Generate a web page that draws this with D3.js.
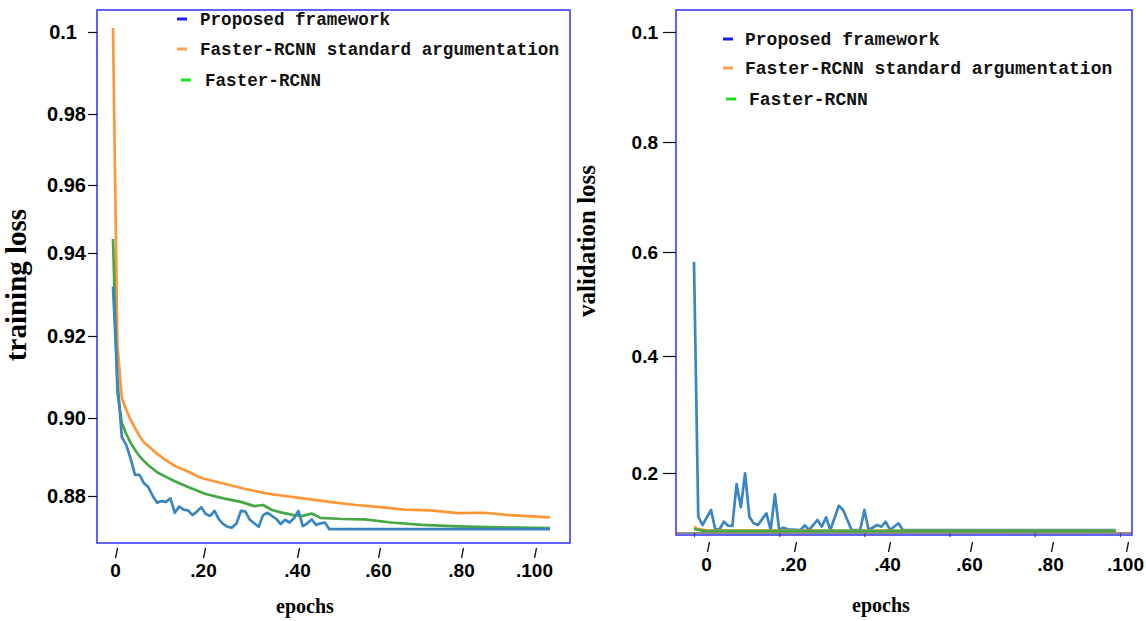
<!DOCTYPE html>
<html>
<head>
<meta charset="utf-8">
<script src="https://cdn.jsdelivr.net/npm/d3@7"></script>
<style>
  html, body { margin: 0; padding: 0; background: #ffffff; }
  svg { display: block; }
</style>
</head>
<body>
<svg id="chart" width="1146" height="621"></svg>
<script>
// ---------------- DATA ----------------
const seriesNames = ["Proposed framework", "Faster-RCNN standard argumentation", "Faster-RCNN"];

// Training loss (left panel)
const trainEpochsBlue = [0,1,2,3,4,5,6,7,8,9,10,11,12,13,14,15,16,17,18,19,20,21,22,23,24,25,26,27,28,29,30,31,32,33,34,35,36,37,38,39,40,41,42,43,44,45,46,47,48,49,60,70,80,90,99];
const trainLossBlue = [0.9319,0.9093,0.8951,0.8931,0.8895,0.8854,0.8854,0.8833,0.8823,0.8800,
  0.8783,0.8787,0.8785,0.8794,0.8757,0.8773,0.8765,0.8763,0.8751,0.8760,
  0.8771,0.8754,0.8749,0.8762,0.8740,0.8728,0.8721,0.8719,0.8730,0.8762,
  0.8760,0.8739,0.8730,0.8721,0.8751,0.8757,0.8749,0.8741,0.8728,0.8739,
  0.8732,0.8743,0.8762,0.8723,0.8730,0.8740,0.8726,0.8730,0.8732,0.8715,
  0.8715,0.8715,0.8715,0.8715,0.8715];

const trainEpochsOrange = [0,1,2,3,4,5,6,7,8,9,10,12,14,17,20,25,30,35,39,43,49,55,60,66,72,78,84,90,99];
const trainLossOrange = [1.001,0.9178,0.9049,0.9020,0.8995,0.8974,0.8954,0.8938,0.8928,0.8918,
  0.8908,0.8892,0.8877,0.8863,0.8846,0.8832,0.8818,0.8806,0.8800,0.8794,
  0.8785,0.8777,0.8772,0.8765,0.8763,0.8756,0.8757,0.8751,0.8745];

const trainEpochsGreen = [0,1,2,3,4,5,6,7,8,10,12,14,17,21,25,29,32,34,36,38,41,43,45,47,52,57,63,70,78,85,99];
const trainLossGreen = [0.9441,0.9063,0.8987,0.8959,0.8936,0.8918,0.8902,0.8890,0.8879,0.8861,
  0.8849,0.8838,0.8823,0.8805,0.8794,0.8785,0.8774,0.8777,0.8764,0.8758,
  0.8751,0.8749,0.8755,0.8744,0.8741,0.8740,0.8732,0.8726,0.8722,0.8720,0.8718];

// Validation loss (right panel)
const valEpochsBlue = [0,1,2,4,5,6,7,8,9,10,11,12,13,14,15,17,18,19,20,21,22,25,26,27,29,30,31,32,34,35,37,39,40,41,43,44,45,46,48,49,99];
const valLossBlue = [0.581,0.1253,0.1111,0.1368,0.1038,0.1038,0.1168,0.1099,0.1094,0.1812,
  0.1414,0.1995,0.1253,0.1140,0.1111,0.1311,0.1026,0.1636,0.1026,0.1065,
  0.1038,0.1026,0.1106,0.1026,0.1197,0.1082,0.1243,0.1026,0.1441,0.1368,
  0.1026,0.1026,0.1368,0.1026,0.1111,0.1082,0.1168,0.1026,0.1140,0.1026,0.1026];

const valEpochsOrange = [0,1,3,10,40,99];
const valLossOrange = [0.1077,0.1040,0.1020,0.1015,0.1013,0.1012];

const valEpochsGreen = [0,2,10,99];
const valLossGreen = [0.1043,0.1014,0.1010,0.1009];

// Tick labels
const xTickValues = [0,20,40,60,80,100];
const xTickLabels = ["0",".20",".40",".60",".80",".100"];
const yTickValuesL = [0.88,0.90,0.92,0.94,0.96,0.98,1.00];
const yTickLabelsL = ["0.88","0.90","0.92","0.94","0.96","0.98","0.1"];
const yTickValuesR = [0.2,0.4,0.6,0.8,1.0];
const yTickLabelsR = ["0.2","0.4","0.6","0.8","0.1"];

// ---------------- STYLE ----------------
const colBlue = "#3a86c2", colOrange = "#ff9638", colGreen = "#46a845";
const legendDash = ["#1a1aff", "#ffa050", "#22dd22"];
const frameCol = "#2e2eff";

const svg = d3.select("#chart");

function drawPanel(cfg) {
  const g = svg.append("g");
  // frame
  g.append("rect").attr("x", cfg.frame[0]).attr("y", cfg.frame[1])
    .attr("width", cfg.frame[2]).attr("height", cfg.frame[3])
    .attr("fill", "none").attr("stroke", frameCol).attr("stroke-width", 1.5);

  // y axis
  const ya = g.append("g").attr("transform", `translate(${cfg.frame[0]},0)`)
    .call(d3.axisLeft(cfg.y).tickValues(cfg.yTicks)
      .tickFormat((d, i) => cfg.yLabels[i]).tickSize(cfg.yTickSize).tickPadding(cfg.yPad));
  ya.select(".domain").remove();
  ya.selectAll("line").attr("stroke", "#111").attr("stroke-width", 1.2);
  ya.selectAll("text").attr("font-family", "Liberation Sans, Arial, sans-serif")
    .attr("font-weight", "bold").attr("font-size", cfg.yFont).attr("fill", "#000")
    .attr("dx", (d, i) => (cfg.yLabels[i] === "0.1" ? cfg.topGap : 0));

  // x axis (slanted tick marks)
  const xa = g.append("g").attr("transform", `translate(0,${cfg.xTickY})`)
    .call(d3.axisBottom(cfg.xLab).tickValues(xTickValues)
      .tickFormat((d, i) => xTickLabels[i]));
  xa.select(".domain").remove();
  xa.selectAll("line").attr("x1", -1).attr("y1", 10).attr("x2", 1).attr("y2", 0)
    .attr("stroke", "#111").attr("stroke-width", 1.3);
  xa.selectAll("text").attr("y", cfg.xLabelDy).attr("dy", 0).attr("dx", cfg.xLabelDx)
    .attr("font-family", "Liberation Sans, Arial, sans-serif")
    .attr("font-weight", "bold").attr("font-size", 19).attr("fill", "#000");

  if (cfg.baseline) {
    g.append("line").attr("x1", cfg.frame[0]).attr("x2", cfg.frame[0] + cfg.frame[2])
      .attr("y1", cfg.baseline).attr("y2", cfg.baseline)
      .attr("stroke", "#666").attr("stroke-width", 1.5);
    const ba = g.append("g").attr("transform", `translate(0,${cfg.baseline})`)
      .call(d3.axisBottom(cfg.x).tickValues(xTickValues).tickFormat("").tickSize(4));
    ba.select(".domain").remove();
    ba.selectAll("line").attr("stroke", "#444").attr("stroke-width", 1.2);
  }

  // lines
  const line = d3.line().x(d => cfg.x(d[0])).y(d => cfg.y(d[1]));
  cfg.series.forEach(s => {
    g.append("path").datum(d3.zip(s.ep, s.val))
      .attr("d", line).attr("fill", "none")
      .attr("stroke", s.color).attr("stroke-width", 2.7)
      .attr("stroke-linejoin", "round").attr("stroke-linecap", "butt");
  });

  // axis titles
  g.append("text").attr("x", cfg.xTitle[0]).attr("y", cfg.xTitle[1])
    .attr("text-anchor", "middle").attr("font-family", "Liberation Serif, Times New Roman, serif")
    .attr("font-weight", "bold").attr("font-size", 20).text("epochs");
  g.append("text").attr("transform", `translate(${cfg.yTitle[0]},${cfg.yTitle[1]}) rotate(-90)`)
    .attr("text-anchor", "middle").attr("font-family", "Liberation Serif, Times New Roman, serif")
    .attr("font-weight", "bold").attr("font-size", cfg.yTitleSize).text(cfg.yTitleText);

  // legend
  const lg = g.append("g");
  seriesNames.forEach((name, i) => {
    const it = cfg.legend[i];
    lg.append("line").attr("x1", it[0]).attr("x2", it[0] + 10)
      .attr("y1", it[1]).attr("y2", it[1])
      .attr("stroke", legendDash[i]).attr("stroke-width", 3);
    lg.append("text").attr("x", it[2]).attr("y", it[1] + 6)
      .attr("font-family", "Liberation Mono, Courier New, monospace")
      .attr("font-weight", "bold").attr("font-size", cfg.legendSize)
      .attr("fill", "#111").text(name);
  });
}

// Left panel: training loss
drawPanel({
  frame: [97, 10, 473, 533],
  x: d3.scaleLinear().domain([0, 99]).range([113, 550]),
  xLab: d3.scaleLinear().domain(xTickValues).range([116, 204, 298, 379, 462, 535]),
  xLabelDx: -1,
  y: d3.scaleLinear().domain(yTickValuesL).range([496, 418, 336, 253, 185, 114, 32]),
  yTicks: yTickValuesL, yLabels: yTickLabelsL, yTickSize: 9, yPad: 2, yFont: 20, topGap: -9,
  xTickY: 548, xLabelDy: 29,
  series: [
    {ep: trainEpochsOrange, val: trainLossOrange, color: colOrange},
    {ep: trainEpochsGreen, val: trainLossGreen, color: colGreen},
    {ep: trainEpochsBlue, val: trainLossBlue, color: colBlue}
  ],
  xTitle: [305, 613], yTitle: [26, 285], yTitleText: "training loss", yTitleSize: 29,
  legend: [[177, 19, 200], [177, 49, 200], [181, 80, 205]], legendSize: 17.6
});

// Right panel: validation loss
drawPanel({
  frame: [676, 10, 456, 525],
  x: d3.scaleLinear().domain([0, 100]).range([694, 1120]),
  xLab: d3.scaleLinear().domain(xTickValues).range([708, 795, 889, 971, 1052, 1127]),
  xLabelDx: -2,
  y: d3.scaleLinear().domain(yTickValuesR).range([473, 356, 252, 142, 32]),
  yTicks: yTickValuesR, yLabels: yTickLabelsR, yTickSize: 13, yPad: 5, yFont: 19, topGap: 0,
  xTickY: 542, xLabelDy: 29,
  baseline: 533,
  series: [
    {ep: valEpochsBlue, val: valLossBlue, color: colBlue},
    {ep: valEpochsOrange, val: valLossOrange, color: colOrange},
    {ep: valEpochsGreen, val: valLossGreen, color: colGreen}
  ],
  xTitle: [881, 612], yTitle: [595, 241], yTitleText: "validation loss", yTitleSize: 25,
  legend: [[723, 39, 745], [723, 68, 745], [726, 99, 749]], legendSize: 18
});
</script>
</body>
</html>
